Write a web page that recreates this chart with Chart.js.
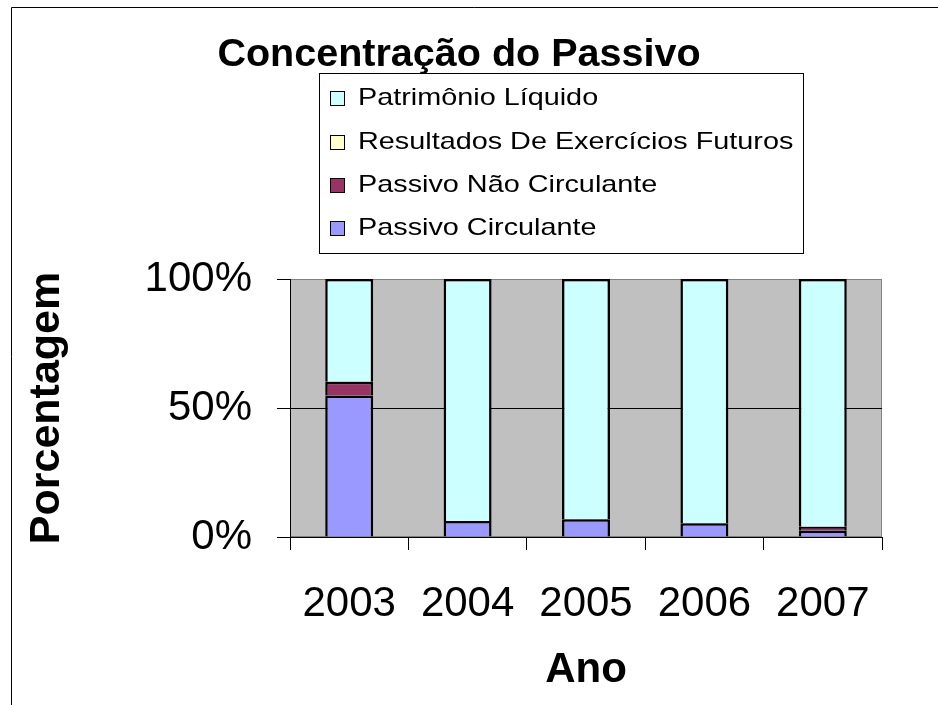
<!DOCTYPE html>
<html>
<head>
<meta charset="utf-8">
<script src="https://cdn.jsdelivr.net/npm/chart.js@4.4.1/dist/chart.umd.min.js"></script>
<style>
  html, body { margin: 0; padding: 0; background: #fff; }
  #wrap { width: 938px; height: 705px; }
</style>
</head>
<body>
<div id="wrap"><canvas id="grafico" width="938" height="705"></canvas></div>
<script>
// dados (% do passivo total)
var anos = ['2003', '2004', '2005', '2006', '2007'];
var passivoCirculante = [54.8, 6.2, 6.9, 5.3, 2.4];
var passivoNaoCirculante = [5.4, 0, 0, 0, 1.6];
var resultadosExerciciosFuturos = [0, 0, 0, 0, 0];
var patrimonioLiquido = [39.8, 93.8, 93.1, 94.7, 96.0];
var ticksY = [0, 50, 100];

var fonte = '"Liberation Sans", Arial, sans-serif';

// fundo cinza da área de plotagem, título, legenda e moldura
var fundoPlugin = {
    id: 'fundo',
    beforeDraw: function(chart) {
        var ctx = chart.ctx, a = chart.chartArea;
        ctx.save();
        ctx.fillStyle = '#fff';
        ctx.fillRect(0, 0, chart.width, chart.height);
        ctx.fillStyle = '#C0C0C0';
        ctx.fillRect(a.left, a.top, a.right - a.left, a.bottom - a.top);
        ctx.strokeStyle = '#808080';
        ctx.lineWidth = 1;
        ctx.strokeRect(a.left + 0.5, a.top + 0.5, a.right - a.left - 1, a.bottom - a.top - 1);
        ctx.restore();
    },
    afterDraw: function(chart) {
        var ctx = chart.ctx;
        ctx.save();
        // moldura
        ctx.strokeStyle = '#000';
        ctx.lineWidth = 1;
        ctx.beginPath();
        ctx.moveTo(11.5, chart.height);
        ctx.lineTo(11.5, 7.5);
        ctx.lineTo(chart.width, 7.5);
        ctx.stroke();

        // título
        ctx.fillStyle = '#000';
        ctx.font = 'bold 38px ' + fonte;
        ctx.textAlign = 'center';
        ctx.textBaseline = 'alphabetic';
        ctx.save();
        ctx.translate(459, 66);
        ctx.scale(1.04, 1);
        ctx.fillText('Concentração do Passivo', 0, 0);
        ctx.restore();

        // legenda
        ctx.fillStyle = '#fff';
        ctx.fillRect(319, 73, 484, 180);
        ctx.strokeStyle = '#000';
        ctx.strokeRect(319.5, 73.5, 484, 180);
        var ds = chart.data.datasets.slice().reverse();
        var ys = [98, 142, 185, 228];
        ds.forEach(function(d, i) {
            var y = ys[i];
            ctx.fillStyle = d.backgroundColor;
            ctx.fillRect(330, y - 7, 14, 14);
            ctx.strokeStyle = '#000';
            ctx.lineWidth = 1;
            ctx.strokeRect(330.5, y - 6.5, 14, 14);
            ctx.save();
            ctx.translate(358, y);
            ctx.scale(1.2, 1);
            ctx.fillStyle = '#000';
            ctx.font = '24px ' + fonte;
            ctx.textAlign = 'left';
            ctx.textBaseline = 'middle';
            ctx.fillText(d.label, 0, 0);
            ctx.restore();
        });
        ctx.restore();
    }
};

function serie(label, data, cor) {
    return {
        label: label,
        data: data,
        backgroundColor: cor,
        borderColor: '#000',
        borderWidth: 2.5,
        borderSkipped: 'start',
        barPercentage: 0.405,
        categoryPercentage: 1
    };
}

var ctx = document.getElementById('grafico').getContext('2d');
new Chart(ctx, {
    type: 'bar',
    data: {
        labels: anos,
        datasets: [
            serie('Passivo Circulante', passivoCirculante, '#9999FF'),
            serie('Passivo Não Circulante', passivoNaoCirculante, '#993366'),
            serie('Resultados De Exercícios Futuros', resultadosExerciciosFuturos, '#FFFFCC'),
            serie('Patrimônio Líquido', patrimonioLiquido, '#CCFFFF')
        ]
    },
    options: {
        responsive: false,
        animation: false,
        layout: { padding: { top: 279, right: 56, left: 0, bottom: 0 } },
        plugins: {
            legend: { display: false },
            title: { display: false },
            tooltip: { enabled: false }
        },
        scales: {
            x: {
                stacked: true,
                afterFit: function(scale) { scale.height = 168; },
                grid: {
                    offset: true,
                    drawOnChartArea: false,
                    drawTicks: true,
                    tickLength: 13,
                    color: '#000'
                },
                border: { color: '#000', width: 1 },
                ticks: {
                    color: '#000',
                    padding: 29,
                    font: { family: fonte, size: 42 }
                },
                title: {
                    display: true,
                    text: 'Ano',
                    color: '#000',
                    padding: { top: 0, bottom: 9 },
                    font: { family: fonte, size: 42, weight: 'bold' }
                }
            },
            y: {
                stacked: true,
                min: 0,
                max: 100,
                afterFit: function(scale) { scale.width = 290; },
                afterBuildTicks: function(scale) {
                    scale.ticks = ticksY.map(function(v) { return { value: v }; });
                },
                grid: {
                    tickLength: 13,
                    color: function(c) {
                        return c.tick && c.tick.value === 100 ? '#808080' : '#000';
                    },
                    tickColor: '#000'
                },
                border: { color: '#000', width: 1 },
                ticks: {
                    color: '#000',
                    padding: 25,
                    font: { family: fonte, size: 42 },
                    callback: function(v) { return v + '%'; }
                },
                title: {
                    display: true,
                    text: 'Porcentagem',
                    color: '#000',
                    padding: { top: 21, bottom: 0 },
                    font: { family: fonte, size: 43, weight: 'bold' }
                }
            }
        }
    },
    plugins: [fundoPlugin]
});
</script>
</body>
</html>
